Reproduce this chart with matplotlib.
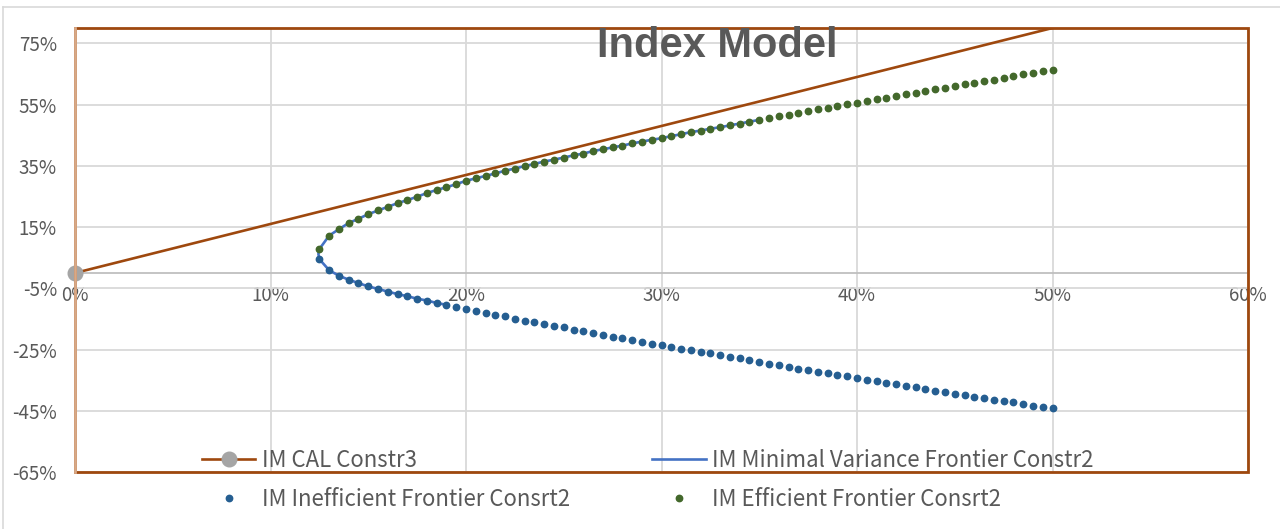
import matplotlib
matplotlib.use("Agg")
import matplotlib.pyplot as plt
from matplotlib.patches import Rectangle
from matplotlib.lines import Line2D

# ---------------- data (percent) ----------------
sigma = [12.5, 13.0, 13.5, 14.0, 14.5, 15.0, 15.5, 16.0, 16.5, 17.0, 17.5, 18.0,
         18.5, 19.0, 19.5, 20.0, 20.5, 21.0, 21.5, 22.0, 22.5, 23.0, 23.5, 24.0,
         24.5, 25.0, 25.5, 26.0, 26.5, 27.0, 27.5, 28.0, 28.5, 29.0, 29.5, 30.0,
         30.5, 31.0, 31.5, 32.0, 32.5, 33.0, 33.5, 34.0, 34.5, 35.0, 35.5, 36.0,
         36.5, 37.0, 37.5, 38.0, 38.5, 39.0, 39.5, 40.0, 40.5, 41.0, 41.5, 42.0,
         42.5, 43.0, 43.5, 44.0, 44.5, 45.0, 45.5, 46.0, 46.5, 47.0, 47.5, 48.0,
         48.5, 49.0, 49.5, 50.0]

efficient_mu = [7.8, 12.2, 14.3, 16.3, 17.7, 19.2, 20.4, 21.6, 22.8, 23.8, 24.9, 26.1,
                27.1, 28.0, 29.0, 30.1, 30.9, 31.7, 32.5, 33.4, 34.1, 34.9, 35.6, 36.4,
                37.0, 37.7, 38.4, 39.0, 39.8, 40.4, 41.0, 41.6, 42.3, 42.9, 43.5, 44.0,
                44.7, 45.3, 46.0, 46.5, 47.1, 47.6, 48.2, 48.8, 49.4, 50.0, 50.5, 51.1,
                51.7, 52.4, 53.0, 53.6, 54.0, 54.5, 55.1, 55.6, 56.2, 56.7, 57.3, 57.8,
                58.4, 58.9, 59.4, 60.0, 60.5, 61.1, 61.6, 62.2, 62.6, 63.1, 63.7, 64.3,
                64.9, 65.4, 66.0, 66.4]

inefficient_mu = [4.5, 0.9, -0.9, -2.2, -3.3, -4.4, -5.2, -6.1, -6.9, -7.6, -8.4, -9.0,
                  -9.8, -10.4, -11.1, -11.7, -12.4, -13.0, -13.7, -14.2, -14.9, -15.6, -16.1, -16.7,
                  -17.3, -17.8, -18.5, -19.0, -19.6, -20.2, -20.8, -21.4, -22.0, -22.5, -23.1, -23.6,
                  -24.1, -24.7, -25.2, -25.8, -26.3, -26.9, -27.4, -27.9, -28.4, -29.0, -29.6, -30.1,
                  -30.7, -31.2, -31.7, -32.3, -32.8, -33.3, -33.8, -34.4, -34.9, -35.3, -35.9, -36.3,
                  -36.9, -37.4, -37.9, -38.4, -38.9, -39.4, -39.9, -40.4, -40.9, -41.4, -41.9, -42.3,
                  -42.7, -43.3, -43.7, -44.1]

# minimal variance frontier: lower branch up to sigma 19, vertex, upper branch up to sigma 35
mv_vertex = (12.45, 6.2)
mv_lower_end = 19.0
mv_upper_end = 35.0

cal_sigma = [0.0, 50.0]
cal_mu = [0.0, 80.0]

x_ticks = [0, 10, 20, 30, 40, 50, 60]
x_tick_labels = ["0%", "10%", "20%", "30%", "40%", "50%", "60%"]
y_ticks = [-65, -45, -25, -5, 15, 35, 55, 75]
y_tick_labels = ["-65%", "-45%", "-25%", "-5%", "15%", "35%", "55%", "75%"]

title = "Index Model"
labels = ["IM CAL Constr3", "IM Minimal Variance Frontier Constr2",
          "IM Inefficient Frontier Consrt2", "IM Efficient Frontier Consrt2"]

# ---------------- style ----------------
BROWN = "#9E480E"
GRAY_MK = "#A5A5A5"
BLUE_DOT = "#255E91"
GREEN_DOT = "#43682B"
MV_BLUE = "#4472C4"
TXT = "#595959"
GRID = "#D9D9D9"

plt.rcParams['font.family'] = ['Noto Sans CJK SC', 'DejaVu Sans']

fig = plt.figure(figsize=(12.8, 5.29), dpi=100)
ax = fig.add_axes([75/1280, 1-472/529, (1248-75)/1280, (472-28)/529])

ax.set_xlim(0, 60)
ax.set_ylim(-65, 80)
ax.set_xticks(x_ticks)
ax.set_xticklabels(x_tick_labels)
ax.set_yticks(y_ticks)
ax.set_yticklabels(y_tick_labels)
ax.tick_params(axis='both', length=0, labelsize=13.5, labelcolor=TXT)
ax.tick_params(axis='y', pad=13)
ax.tick_params(axis='x', pad=9)
ax.grid(True, color=GRID, linewidth=1.3)
ax.set_axisbelow(True)

for s in ['top', 'right', 'left']:
    ax.spines[s].set_visible(False)
ax.spines['bottom'].set_position(('data', 0))
ax.spines['bottom'].set_color("#BFBFBF")
ax.spines['bottom'].set_linewidth(1.3)

# minimal variance frontier line
lower_pts = [(s, m) for s, m in zip(sigma, inefficient_mu) if s <= mv_lower_end][::-1]
upper_pts = [(s, m) for s, m in zip(sigma, efficient_mu) if s <= mv_upper_end]
mv_pts = lower_pts + [mv_vertex] + upper_pts
ax.plot([p[0] for p in mv_pts], [p[1] for p in mv_pts], color=MV_BLUE, lw=1.9, zorder=3,
        solid_capstyle='round')

ax.plot(sigma, inefficient_mu, linestyle='none', marker='o', ms=4.6, color=BLUE_DOT, zorder=4)
ax.plot(sigma, efficient_mu, linestyle='none', marker='o', ms=4.6, color=GREEN_DOT, zorder=4)

ax.plot(cal_sigma, cal_mu, color=BROWN, lw=1.9, zorder=5)
ax.plot(cal_sigma[:1], cal_mu[:1], linestyle='none', marker='o', ms=10.5, color=GRAY_MK,
        zorder=6, clip_on=False)

# plot-area frame
ax.add_patch(Rectangle((0, 0), 1, 1, transform=ax.transAxes, fill=False,
                       edgecolor=BROWN, lw=2.0, zorder=7, clip_on=False))
ax.plot([0, 0], [0, 1], transform=ax.transAxes, color="#D8A987", lw=2.0, zorder=8, clip_on=False)

# chart-area border
fig.add_artist(Line2D([3/1280, 3/1280], [0, 1-7/529], transform=fig.transFigure, color=GRID, lw=1.2))
fig.add_artist(Line2D([3/1280, 1], [1-7/529, 1-7/529], transform=fig.transFigure, color=GRID, lw=1.2))

fig.text(717/1280, 1-57/529, title, ha='center', va='baseline', fontsize=30,
         fontweight='bold', color=TXT, family=['Liberation Sans', 'DejaVu Sans'], zorder=10)

handles = [
    Line2D([], [], color=BROWN, lw=1.9, marker='o', ms=10.5, mfc=GRAY_MK, mec=GRAY_MK),
    Line2D([], [], linestyle='none', marker='o', ms=4.6, color=BLUE_DOT),
    Line2D([], [], color=MV_BLUE, lw=1.9),
    Line2D([], [], linestyle='none', marker='o', ms=4.6, color=GREEN_DOT),
]
leg_labels = [labels[0], labels[2], labels[1], labels[3]]
leg = fig.legend(handles, leg_labels, ncol=2, frameon=False, fontsize=16,
                 loc='upper left', bbox_to_anchor=(202/1280, 1-449/529),
                 handlelength=2.4, handletextpad=0.3, columnspacing=3.7,
                 labelspacing=0.72, borderaxespad=0, borderpad=0)
for t in leg.get_texts():
    t.set_color(TXT)

fig.savefig("out.png", dpi=100)
